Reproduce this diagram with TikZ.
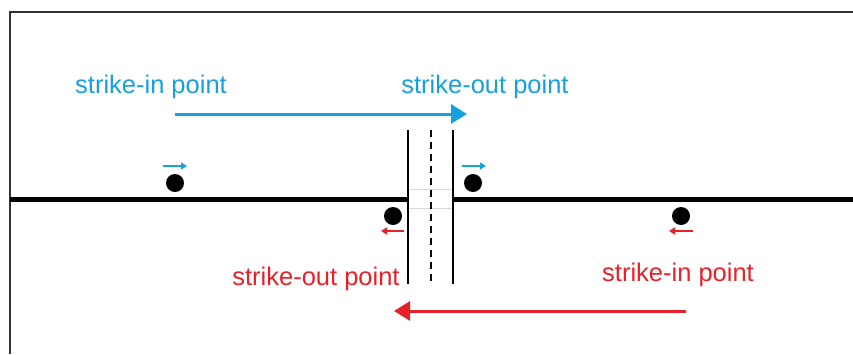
\documentclass[tikz,border=0pt]{standalone}
\usepackage{fontspec}
\setmainfont{Liberation Sans}
\usetikzlibrary{arrows.meta}
\definecolor{inblue}{RGB}{22,160,224}
\definecolor{outred}{RGB}{232,32,40}

\begin{document}
\begin{tikzpicture}[x=1pt,y=-1pt,
        lbl/.style={inner sep=0pt,font=\fontsize{25.5}{30}\selectfont},
        car/.style={circle,fill=black,inner sep=0pt,minimum size=18pt},
        bigarrow/.style={line width=3pt,-{Triangle[length=16pt,width=19pt]}},
        smallarrow/.style={line width=2pt,-{Triangle[length=6pt,width=7pt]}}]
        \useasboundingbox (0,0) rectangle (853,354);
        \draw[line width=1.5pt,black!80] (10,354) -- (10,12) -- (853,12);
        % road and crossing
        \coordinate (rl) at (10,199);
        \coordinate (cl) at (408,199);
        \coordinate (cr) at (453,199);
        \coordinate (rr) at (853,199);
        \draw[line width=5pt] (rl) -- (cl);
        \draw[line width=5pt] (cr) -- (rr);
        \draw[black!15,line width=0.6pt] (408,189) -- (453,189);
        \draw[black!15,line width=0.6pt] (408,208) -- (453,208);
        \draw[line width=2pt] (408,130) -- (408,284);
        \draw[line width=2pt] (453,130) -- (453,284);
        \draw[line width=2pt,dash pattern=on 7pt off 5pt] (430.5,130) -- (430.5,284);
        % cars
        \node[car] (c1) at (175,183) {};
        \node[car] (c2) at (473,183) {};
        \node[car] (c3) at (393,216) {};
        \node[car] (c4) at (681,216) {};
        \coordinate (a1) at (163,166);
        \coordinate (b1) at (187,166);
        \coordinate (a2) at (462,166);
        \coordinate (b2) at (486,166);
        \coordinate (a3) at (404,231);
        \coordinate (b3) at (381,231);
        \coordinate (a4) at (693,231);
        \coordinate (b4) at (669,231);
        \draw[smallarrow,inblue] (a1) -- (b1);
        \draw[smallarrow,inblue] (a2) -- (b2);
        \draw[smallarrow,outred] (a3) -- (b3);
        \draw[smallarrow,outred] (a4) -- (b4);
        % labels
        \node[lbl,inblue] (bin) at (151,87) {strike-in point};
        \node[lbl,inblue] (bout) at (485,87) {strike-out point};
        \node[lbl,outred] (rout) at (316,279) {strike-out point};
        \node[lbl,outred] (rin) at (678,275) {strike-in point};
        \coordinate (bs) at (175,114);
        \coordinate (be) at (467,114);
        \coordinate (rs) at (686,311);
        \coordinate (re) at (394,311);
        \draw[bigarrow,inblue] (bs) -- (be);
        \draw[bigarrow,outred] (rs) -- (re);
\end{tikzpicture}
\end{document}
